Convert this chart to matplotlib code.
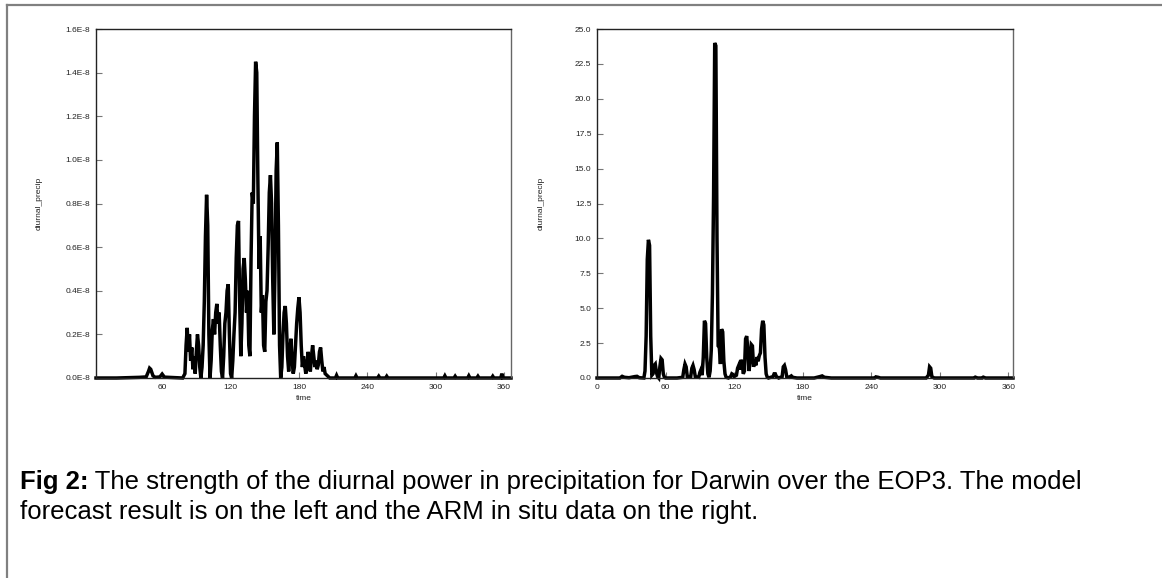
import matplotlib.pyplot as plt
from matplotlib.lines import Line2D

# model forecast (left panel), values in units of 1E-8
left_time = [2, 20, 40, 46, 48, 49, 50, 52, 54, 58, 60, 62, 70, 78, 80, 81, 82, 83, 84, 85, 86, 87, 88, 89,
             90, 91, 92, 93, 94, 95, 96, 97, 98, 99, 100, 101, 102, 103, 104, 105, 106, 107, 108, 109,
             110, 111, 112, 113, 114, 115, 116, 117, 118, 119, 120, 121, 122, 123, 124, 125, 126, 127,
             128, 129, 130, 131, 132, 133, 134, 135, 136, 137, 138, 139, 140, 141, 142, 143, 144, 145,
             146, 147, 148, 149, 150, 151, 152, 153, 154, 155, 156, 157, 158, 159, 160, 161, 162, 163,
             164, 165, 166, 167, 168, 169, 170, 171, 172, 173, 174, 175, 176, 177, 178, 179, 180, 181,
             182, 183, 184, 185, 186, 187, 188, 189, 190, 191, 192, 193, 194, 195, 196, 197, 198, 199,
             200, 201, 202, 203, 205, 207, 212, 213, 214, 229, 230, 231, 249, 250, 251, 256, 257, 258,
             307, 308, 309, 316, 317, 318, 328, 329, 330, 336, 337, 338, 349, 350, 351, 357, 358, 359, 366]
left_value = [0.0, 0.0, 0.003, 0.005, 0.03, 0.045, 0.04, 0.01, 0.003, 0.005, 0.018, 0.004, 0.002, 0.0,
              0.02, 0.15, 0.23, 0.12, 0.2, 0.08, 0.14, 0.04, 0.1, 0.02,
              0.12, 0.2, 0.15, 0.05, 0.0, 0.05, 0.15, 0.35, 0.65, 0.84, 0.7, 0.2, 0.0, 0.08, 0.22, 0.27, 0.2, 0.3, 0.34, 0.25,
              0.3, 0.15, 0.03, 0.0, 0.1, 0.25, 0.3, 0.4, 0.43, 0.2, 0.02, 0.0, 0.08, 0.2, 0.3, 0.55, 0.7, 0.72,
              0.35, 0.1, 0.25, 0.5, 0.55, 0.45, 0.3, 0.4, 0.15, 0.1, 0.55, 0.85, 0.8, 1.2, 1.45, 1.4, 0.9, 0.5,
              0.65, 0.3, 0.38, 0.15, 0.12, 0.35, 0.4, 0.6, 0.85, 0.93, 0.8, 0.45, 0.2, 0.5, 0.95, 1.08, 0.7, 0.15,
              0.0, 0.05, 0.2, 0.3, 0.33, 0.25, 0.1, 0.03, 0.12, 0.18, 0.08, 0.02, 0.05, 0.15, 0.25, 0.32, 0.37, 0.3,
              0.15, 0.05, 0.1, 0.06, 0.02, 0.05, 0.12, 0.08, 0.03, 0.1, 0.15, 0.1, 0.05, 0.08, 0.04, 0.06, 0.12, 0.14,
              0.08, 0.03, 0.05, 0.02, 0.01, 0.0, 0.0, 0.012, 0.0, 0.0, 0.01, 0.0, 0.0, 0.008, 0.0, 0.0, 0.008, 0.0,
              0.0, 0.01, 0.0, 0.0, 0.008, 0.0, 0.0, 0.01, 0.0, 0.0, 0.008, 0.0, 0.0, 0.008, 0.0, 0.0, 0.02, 0.0, 0.0]

# ARM in situ data (right panel)
right_time = [0, 20, 22, 24, 28, 33, 35, 37, 41, 42, 43, 44, 45, 46, 47, 48, 49, 50, 51, 52, 53, 54, 55, 56,
              57, 58, 59, 60, 70, 75, 76, 77, 78, 79, 82, 83, 84, 85, 86, 89, 90, 91, 92, 93, 94, 95, 96,
              97, 98, 99, 100, 101, 102, 103, 104, 105, 106, 107, 108, 109, 110, 111, 112, 113, 115, 117,
              118, 119, 120, 122, 123, 124, 125, 126, 127, 128, 129, 130, 131, 132, 133, 134, 135, 136,
              137, 138, 139, 140, 141, 142, 143, 144, 145, 146, 147, 148, 149, 150, 154, 155, 156, 157,
              159, 162, 163, 164, 165, 166, 168, 170, 171, 175, 190, 195, 197, 199, 205, 243, 244, 246,
              248, 288, 290, 291, 292, 293, 295, 330, 331, 333, 337, 338, 340, 364]
right_value = [0.0, 0.0, 0.12, 0.05, 0.02, 0.1, 0.12, 0.02, 0.0, 0.5, 3.0, 8.5, 9.9, 9.5, 3.0, 0.2, 0.3, 0.9, 1.0, 0.4, 0.1, 0.0, 0.8, 1.4,
               1.3, 0.3, 0.05, 0.0, 0.0, 0.05, 0.6, 1.0, 0.8, 0.1, 0.1, 0.7, 0.9, 0.6, 0.1, 0.05, 0.4, 0.6, 0.2, 1.5, 4.1, 3.9, 1.5,
               0.3, 0.05, 0.5, 2.0, 6.0, 13.0, 24.0, 23.8, 10.0, 2.3, 2.2, 1.0, 3.5, 3.3, 1.2, 0.3, 0.05, 0.0, 0.1,
               0.3, 0.25, 0.1, 0.2, 0.7, 0.9, 0.6, 1.3, 1.1, 0.3, 0.5, 2.8, 3.0, 2.0, 0.5, 1.2, 2.4, 2.3,
               0.8, 1.2, 0.9, 1.5, 1.2, 1.6, 1.8, 3.5, 4.1, 3.8, 1.5, 0.3, 0.05, 0.0, 0.1, 0.3, 0.3, 0.1,
               0.0, 0.1, 0.8, 0.9, 0.6, 0.1, 0.05, 0.15, 0.05, 0.0, 0.0, 0.1, 0.15, 0.05, 0.0, 0.0, 0.08, 0.05,
               0.0, 0.0, 0.2, 0.8, 0.7, 0.1, 0.0, 0.0, 0.06, 0.0, 0.0, 0.06, 0.0, 0.0]

left_yticks = [0.0, 0.2, 0.4, 0.6, 0.8, 1.0, 1.2, 1.4, 1.6]
left_ylabels = [f"{v:.1f}E-8" for v in left_yticks]
left_xticks = [60, 120, 180, 240, 300, 360]
right_yticks = [0.0, 2.5, 5.0, 7.5, 10.0, 12.5, 15.0, 17.5, 20.0, 22.5, 25.0]
right_ylabels = [f"{v:.1f}" for v in right_yticks]
right_xticks = [0, 60, 120, 180, 240, 300, 360]

caption_bold = "Fig 2:"
caption_rest = " The strength of the diurnal power in precipitation for Darwin over the EOP3. The model"
caption_line2 = "forecast result is on the left and the ARM in situ data on the right."

plt.rcParams['font.family'] = ['Liberation Sans', 'DejaVu Sans']

W, H = 1162, 578
fig = plt.figure(figsize=(W / 100, H / 100), dpi=100)


def setup(ax, t, v, xlim, ylim, xticks, yticks, ylabels):
    ax.plot(t, v, color='black', lw=2.5, clip_on=False, solid_joinstyle='miter')
    ax.set_xlim(*xlim)
    ax.set_ylim(*ylim)
    ax.set_xticks(xticks)
    ax.set_xticklabels([str(x) for x in xticks])
    ax.set_yticks(yticks)
    ax.set_yticklabels(ylabels)
    ax.tick_params(direction='in', length=4, width=0.8, color='#777777', labelsize=6, pad=4,
                   labelcolor='#222222')
    for s in ax.spines.values():
        s.set_linewidth(1.0)
        s.set_color('#222222')
    ax.spines['right'].set_color('#666666')
    ax.set_xlabel('time', fontsize=6, labelpad=3, color='#222222')
    ax.set_ylabel('diurnal_precip', fontsize=6, color='#222222')


ax1 = fig.add_axes([96 / W, 1 - 378 / H, (511 - 96) / W, (378 - 29) / H])
setup(ax1, left_time, left_value, (2, 366), (0, 1.6), left_xticks, left_yticks, left_ylabels)
ax1.yaxis.set_label_coords(-53 / 415, 0.5)

ax2 = fig.add_axes([597 / W, 1 - 378 / H, (1013 - 597) / W, (378 - 29) / H])
setup(ax2, right_time, right_value, (0, 364), (0, 25), right_xticks, right_yticks, right_ylabels)
ax2.yaxis.set_label_coords(-52 / 416, 0.5)

# frame lines (top and left)
fig.add_artist(Line2D([7 / W, 1], [1 - 5 / H, 1 - 5 / H], color='#808080', lw=1.6))
fig.add_artist(Line2D([7 / W, 7 / W], [0, 1 - 5 / H], color='#808080', lw=1.6))

# caption
cap_fs = 18.5
x0 = 20 / W
y1 = 1 - 482 / H
y2 = 1 - 512 / H
tb = fig.text(x0, y1, caption_bold, fontsize=cap_fs, fontweight='bold', va='center', ha='left')
fig.canvas.draw()
bb = tb.get_window_extent(renderer=fig.canvas.get_renderer())
fig.text(bb.x1 / W, y1, caption_rest, fontsize=cap_fs, va='center', ha='left')
fig.text(x0, y2, caption_line2, fontsize=cap_fs, va='center', ha='left')

fig.savefig('out.png', dpi=100)
